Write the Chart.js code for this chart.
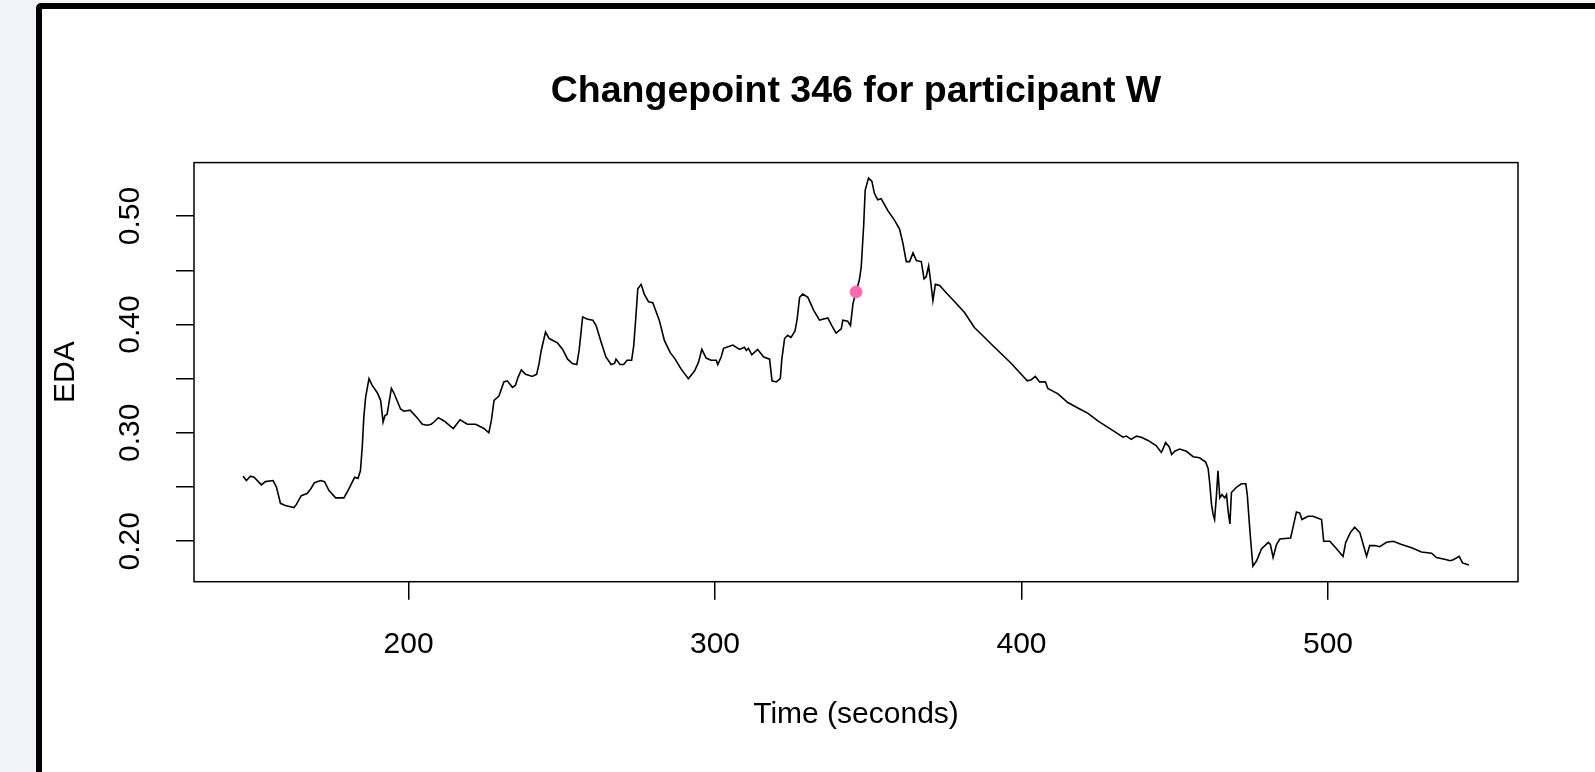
<!DOCTYPE html>
<html>
<head>
<meta charset="utf-8">
<script src="https://cdn.jsdelivr.net/npm/chart.js@4.4.1/dist/chart.umd.min.js"></script>
<style>
  html, body { margin: 0; padding: 0; width: 1595px; height: 772px; overflow: hidden; background: #f0f4f9; }
  #frame { position: absolute; left: 36px; top: 3px; width: 1620px; height: 820px; border: 6px solid #000; border-radius: 5px; background: #fff; box-sizing: border-box; }
  #chart { position: absolute; left: 0; top: 0; }
</style>
</head>
<body>
<div id="frame"></div>
<canvas id="chart" width="1595" height="772"></canvas>
<script>
// EDA trace around changepoint 346 (seconds)
const time = [146, 147.1, 148.4, 149.6, 152, 153.3, 155.8, 156.9, 158.2, 159.8, 162.6, 163.4, 165, 166.9, 168, 169.3, 171.3, 172.6, 174, 176.2,
  178.9, 180.5, 182.4, 183.5, 184.3, 184.9, 185.4, 186, 187.1, 188.1, 189.8, 190.9, 191.7, 192.3, 193, 194.4, 195.2, 197.4, 198.5, 200.5,
  202.8, 204.5, 206.1, 207.4, 208.3, 209.7, 211.6, 214.6, 216.8, 219.2, 221.9, 224.6, 226.2, 227, 227.9, 229.5, 231.1, 232.2, 233.9, 234.9,
  235.7, 236.8, 238.2, 240.4, 241.8, 242.6, 243.3, 244.7, 245.9, 248.6, 250.3, 251.9, 253.5, 254.9, 255.7, 256.8, 258.2, 260.1, 261.2, 262.8,
  264.4, 266.1, 267.2, 267.7, 269, 270.2, 271.3, 272.8, 273.5, 274.2, 274.8, 275.9, 276.9, 278.3, 279.7, 281.8, 283.5, 285.4, 287, 288.9,
  291.3, 293.3, 294.6, 295.7, 297.1, 298.7, 300.4, 300.9, 302, 302.8, 305.8, 308, 309.6, 310.2, 310.9, 312, 313.9, 315.9, 317.8, 318.6,
  320, 321.3, 321.8, 322.7, 323.7, 324.8, 326.1, 326.8, 327.6, 328.6, 330.3, 332.2, 334.1, 336.8, 338.1, 339.5, 341.2, 341.7, 343.3, 344.2,
  345, 346, 347.1, 347.7, 348.5, 349, 350.1, 351.2, 352, 353.1, 354.2, 356.4, 358.6, 360.2, 361.3, 362.4, 363.5, 364.6, 365.7, 367.3,
  368.2, 368.9, 369.7, 370.3, 371.1, 371.9, 373.3, 375.5, 378.2, 381.4, 384.7, 386.9, 390.1, 393.4, 396.7, 399.9, 401.9, 403.2, 404.5, 405.9,
  407.8, 408.6, 411.9, 415.1, 418.4, 421.7, 424.9, 428.2, 431.5, 433.1, 434.2, 435.8, 437.5, 439.1, 441.3, 444, 445.6, 446, 447, 448.2,
  449, 450, 451.6, 453.8, 456, 458.1, 460.1, 460.9, 461.4, 462, 462.5, 463, 463.6, 464.1, 464.7, 465.4, 466.3, 466.9, 467.4, 468,
  468.5, 470.2, 471.8, 473.2, 473.7, 474.2, 474.8, 475.5, 476.7, 478.3, 480.5, 481.2, 482.1, 483.2, 484.3, 487.8, 488.6, 489.7, 490.8, 491.5,
  493.5, 495.1, 497.9, 498.6, 500.6, 502.8, 504.9, 505.8, 507.3, 508.7, 510.4, 511.5, 512.6, 513.6, 515.3, 516.9, 519.1, 521.3, 524, 527.3,
  530.5, 533.8, 535.4, 538.7, 539.8, 540.9, 542.8, 543.9, 546]
const eda = [0.260, 0.256, 0.260, 0.259, 0.252, 0.255, 0.256, 0.250, 0.235, 0.233, 0.231, 0.234, 0.242, 0.244, 0.248, 0.254, 0.256, 0.255, 0.247, 0.240,
  0.240, 0.248, 0.259, 0.258, 0.265, 0.287, 0.314, 0.333, 0.350, 0.344, 0.337, 0.330, 0.310, 0.316, 0.317, 0.341, 0.337, 0.322, 0.320, 0.321,
  0.314, 0.308, 0.307, 0.308, 0.310, 0.314, 0.311, 0.304, 0.312, 0.308, 0.308, 0.304, 0.300, 0.311, 0.330, 0.334, 0.347, 0.348, 0.342, 0.344,
  0.351, 0.358, 0.354, 0.352, 0.354, 0.364, 0.376, 0.393, 0.387, 0.383, 0.377, 0.368, 0.364, 0.363, 0.377, 0.407, 0.405, 0.404, 0.399, 0.384,
  0.370, 0.363, 0.364, 0.368, 0.363, 0.363, 0.367, 0.367, 0.381, 0.408, 0.433, 0.437, 0.428, 0.421, 0.420, 0.404, 0.385, 0.374, 0.368, 0.359,
  0.350, 0.357, 0.365, 0.377, 0.369, 0.367, 0.367, 0.363, 0.370, 0.378, 0.381, 0.377, 0.379, 0.376, 0.378, 0.372, 0.377, 0.370, 0.368, 0.348,
  0.347, 0.350, 0.368, 0.387, 0.390, 0.388, 0.394, 0.405, 0.425, 0.428, 0.425, 0.413, 0.404, 0.406, 0.399, 0.392, 0.396, 0.404, 0.403, 0.399,
  0.419, 0.430, 0.441, 0.453, 0.491, 0.524, 0.535, 0.532, 0.521, 0.515, 0.516, 0.505, 0.496, 0.488, 0.475, 0.458, 0.458, 0.466, 0.459, 0.458,
  0.442, 0.444, 0.454, 0.441, 0.422, 0.437, 0.436, 0.429, 0.421, 0.411, 0.397, 0.391, 0.382, 0.373, 0.364, 0.354, 0.348, 0.349, 0.352, 0.347,
  0.347, 0.341, 0.336, 0.328, 0.323, 0.318, 0.311, 0.305, 0.299, 0.296, 0.297, 0.294, 0.297, 0.296, 0.293, 0.288, 0.282, 0.284, 0.291, 0.287,
  0.280, 0.283, 0.285, 0.283, 0.278, 0.277, 0.273, 0.267, 0.254, 0.234, 0.225, 0.220, 0.242, 0.265, 0.240, 0.243, 0.240, 0.243, 0.228, 0.216,
  0.245, 0.250, 0.253, 0.253, 0.242, 0.222, 0.200, 0.177, 0.182, 0.193, 0.199, 0.197, 0.185, 0.197, 0.202, 0.203, 0.213, 0.227, 0.226, 0.220,
  0.223, 0.223, 0.220, 0.200, 0.200, 0.193, 0.186, 0.199, 0.208, 0.213, 0.208, 0.197, 0.186, 0.196, 0.196, 0.195, 0.199, 0.200, 0.197, 0.194,
  0.190, 0.189, 0.185, 0.183, 0.182, 0.183, 0.186, 0.180, 0.178]

const cpTime = [346]
const cpValue = [0.43]

const xTicks = [200, 300, 400, 500]
const yTicks = [0.20, 0.25, 0.30, 0.35, 0.40, 0.45, 0.50]
const yLabelled = [0.20, 0.30, 0.40, 0.50]

// R-style axis range: data range stretched 4% on each side
function rRange(arr) {
  const lo = Math.min(...arr), hi = Math.max(...arr)
  const pad = (hi - lo) * 0.04
  return [lo - pad, hi + pad]
}
const [xMin, xMax] = rRange(time)
const [yMin, yMax] = rRange(eda)

const family = "'Liberation Sans', Arial, sans-serif"
const base = { family: family, size: 30, lineHeight: 1.2 }

// box around the plot region, like R's box()
const plotBox = {
  id: "plotBox",
  afterDatasetsDraw(chart) {
    const a = chart.chartArea
    const c = chart.ctx
    c.save()
    c.strokeStyle = "#000"
    c.lineWidth = 1.5
    c.strokeRect(a.left, a.top, a.right - a.left, a.bottom - a.top)
    c.restore()
  }
}

new Chart(document.getElementById("chart").getContext("2d"), {
  type: "line",
  data: {
    datasets: [
      {
        label: "Changepoint",
        data: cpTime.map((t, i) => ({ x: t, y: cpValue[i] })),
        showLine: false,
        pointRadius: 6,
        pointBackgroundColor: "#ff69b4",
        pointBorderColor: "#ff69b4",
        order: 0
      },
      {
        label: "EDA",
        data: time.map((t, i) => ({ x: t, y: eda[i] })),
        borderColor: "#000",
        borderWidth: 1.6,
        pointRadius: 0,
        tension: 0,
        order: 1
      }
    ]
  },
  options: {
    responsive: false,
    animation: false,
    layout: { padding: { left: 0, top: 0, right: 77, bottom: 0 } },
    plugins: {
      legend: { display: false },
      tooltip: { enabled: false },
      title: {
        display: true,
        text: "Changepoint 346 for participant W",
        fullSize: false,
        color: "#000",
        font: { family: family, size: 37.5, weight: "bold", lineHeight: 1.2 },
        padding: { top: 69, bottom: 48.6 }
      }
    },
    scales: {
      x: {
        type: "linear",
        min: xMin,
        max: xMax,
        afterBuildTicks: s => { s.ticks = xTicks.map(v => ({ value: v })) },
        afterFit: s => { s.height = 190.3 },
        border: { display: false },
        grid: { drawOnChartArea: false, tickLength: 18, color: "#000", lineWidth: 1.5 },
        ticks: { color: "#000", font: base, padding: 27, maxRotation: 0, callback: v => String(v) },
        title: { display: true, text: "Time (seconds)", color: "#000", font: base, padding: { bottom: 39 } }
      },
      y: {
        min: yMin,
        max: yMax,
        afterBuildTicks: s => { s.ticks = yTicks.map(v => ({ value: v })) },
        afterFit: s => { s.width = 194 },
        border: { display: false },
        grid: { drawOnChartArea: false, tickLength: 18, color: "#000", lineWidth: 1.5 },
        ticks: {
          color: "#000", font: base, padding: 16, minRotation: 90, maxRotation: 90, crossAlign: "center",
          callback: v => yLabelled.some(l => Math.abs(l - v) < 1e-9) ? v.toFixed(2) : ""
        },
        title: { display: true, text: "EDA", color: "#000", font: base, padding: { top: 48 } }
      }
    }
  },
  plugins: [plotBox]
})
</script>
</body>
</html>
